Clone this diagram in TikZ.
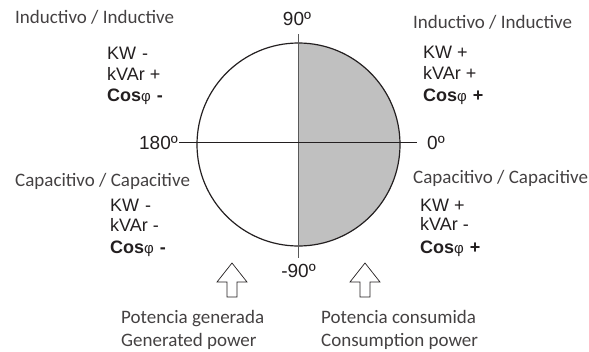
\documentclass[tikz,border=0pt]{standalone}
\usepackage{fontspec}
\setmainfont{Liberation Sans}
\newfontfamily\calfont{Carlito}
\definecolor{txt}{HTML}{231F20}
\definecolor{halfgray}{HTML}{C0C0C0}
\begin{document}
\begin{tikzpicture}[x=1pt,y=-1pt,
  lbl/.style={inner sep=0pt,anchor=base west,font=\calfont\fontsize{19}{21}\selectfont,text=txt!85},
  val/.style={inner sep=0pt,anchor=base west,font=\fontsize{18}{20}\selectfont,text=txt,align=left},
  deg/.style={inner sep=0pt,font=\fontsize{19}{21}\selectfont,text=txt},
  hollowarrow/.style={draw=txt,line width=0.7pt,fill=white,line join=miter}]
\useasboundingbox (0,0) rectangle (589,351);
\clip (0,0) rectangle (589,351);
% circle
\coordinate (c) at (298.5,144.5);
\fill[halfgray] (298.5,43) arc[start angle=-90,end angle=90,radius=101.5] -- cycle;
\draw[txt,line width=1.2pt] (c) circle[radius=101.5];
% axes
\node[deg,anchor=base] (n90) at (297,25) {90º};
\node[deg,anchor=base] (nm90) at (298.5,277) {-90º};
\node[deg,anchor=base east] (n180) at (178,149) {180º};
\node[deg,anchor=base west] (n0) at (427,149) {0º};
\draw[gray!70!black,line width=0.8pt] (298.5,34) -- (298.5,258);
\draw[txt,line width=0.8pt] (179,142) -- (417,142);
% labels
\node[lbl] (il) at (15,23) {Inductivo / Inductive};
\node[lbl] (ir) at (413,28) {Inductivo / Inductive};
\node[lbl] (cl) at (15,186) {Capacitivo / Capacitive};
\node[lbl] (cr) at (413,183) {Capacitivo / Capacitive};
% values
\node[val] (v1a) at (107,59) {KW\,\,-};
\node[val] (v1b) at (107,80) {kVAr +};
\node[val] (v1c) at (107,101) {\textbf{Cos}{\fontsize{15}{17}\selectfont φ}\,\,\textbf{-}};
\node[val] (v2a) at (423,58) {KW +};
\node[val] (v2b) at (423,79) {kVAr +};
\node[val] (v2c) at (423,101) {\textbf{Cos}{\fontsize{15}{17}\selectfont φ}\,\,\textbf{+}};
\node[val] (v3a) at (110,211) {KW\,\,-};
\node[val] (v3b) at (110,231) {kVAr -};
\node[val] (v3c) at (110,253) {\textbf{Cos}{\fontsize{15}{17}\selectfont φ}\,\,\textbf{-}};
\node[val] (v4a) at (420,211) {KW +};
\node[val] (v4b) at (420,230) {kVAr -};
\node[val] (v4c) at (420,253) {\textbf{Cos}{\fontsize{15}{17}\selectfont φ}\,\,\textbf{+}};
% hollow arrows
\draw[hollowarrow] (232,263) -- (247,282) -- (237,282) -- (237,297) -- (227,297) -- (227,282) -- (217,282) -- cycle;
\draw[hollowarrow] (365,263) -- (380,282) -- (370,282) -- (370,297) -- (360,297) -- (360,282) -- (350,282) -- cycle;
% bottom texts
\node[lbl] (pg1) at (121,323) {Potencia generada};
\node[lbl] (pg2) at (121,346) {Generated power};
\node[lbl] (pc1) at (321,323) {Potencia consumida};
\node[lbl] (pc2) at (321,346) {Consumption power};
\end{tikzpicture}
\end{document}
